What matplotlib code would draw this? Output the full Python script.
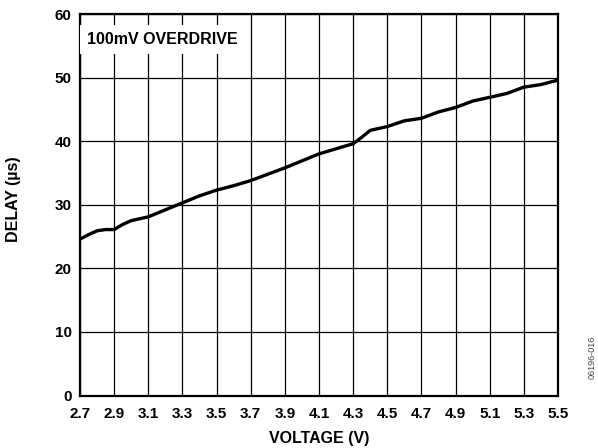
import numpy as np
import matplotlib.pyplot as plt

plt.rcParams['font.family'] = ['Liberation Sans', 'DejaVu Sans']
plt.rcParams['font.weight'] = 'bold'

voltage = [2.7, 2.75, 2.8, 2.85, 2.9, 2.95, 3.0, 3.1, 3.2, 3.3, 3.4, 3.5, 3.6, 3.7,
           3.8, 3.9, 4.0, 4.1, 4.2, 4.3, 4.35, 4.4, 4.5, 4.6, 4.7, 4.8, 4.9,
           5.0, 5.1, 5.2, 5.3, 5.4, 5.5]
delay = [24.6, 25.3, 25.9, 26.1, 26.1, 26.9, 27.5, 28.1, 29.2, 30.3, 31.4, 32.3, 33.0, 33.8,
         34.8, 35.8, 36.9, 38.0, 38.8, 39.6, 40.6, 41.7, 42.3, 43.2, 43.6, 44.6, 45.3,
         46.3, 46.9, 47.5, 48.5, 48.9, 49.6]

xticks = [2.7, 2.9, 3.1, 3.3, 3.5, 3.7, 3.9, 4.1, 4.3, 4.5, 4.7, 4.9, 5.1, 5.3, 5.5]
yticks = [0, 10, 20, 30, 40, 50, 60]

fig = plt.figure(figsize=(5.98, 4.48), dpi=100)
ax = fig.add_axes([80 / 598, 1 - 395.5 / 448, 478 / 598, 381.5 / 448])

ax.plot(voltage, delay, color='black', lw=2.4, zorder=3, solid_capstyle='butt')

ax.set_xlim(2.7, 5.5)
ax.set_ylim(0, 60)
ax.set_xticks(xticks)
ax.set_xticklabels([f'{v:.1f}' for v in xticks])
ax.set_yticks(yticks)
ax.grid(True, color='black', lw=0.9)
ax.tick_params(axis='x', length=0, labelsize=11, pad=8)
ax.tick_params(axis='y', length=0, labelsize=11, pad=6)
for s in ax.spines.values():
    s.set_linewidth(1.6)

ax.set_xlabel('VOLTAGE (V)', fontsize=11.5, fontweight='bold')
ax.set_ylabel('DELAY (µs)', fontsize=11.5, fontweight='bold')
ax.xaxis.set_label_coords(0.5, -0.114)
ax.xaxis.label.set_va('center')
ax.yaxis.set_label_coords(-0.140, 0.515)
ax.yaxis.label.set_va('center')

ax.text(0.0146, 0.934, '100mV OVERDRIVE', transform=ax.transAxes, fontsize=11.5,
        fontweight='bold', va='center', ha='left', zorder=4,
        bbox=dict(facecolor='white', edgecolor='none', pad=5))

fig.text(0.991, 0.203, '06196-016', rotation=90, fontsize=6.5, color='#444444',
         fontweight='normal', ha='center', va='center')

fig.savefig('out.png', dpi=100)
